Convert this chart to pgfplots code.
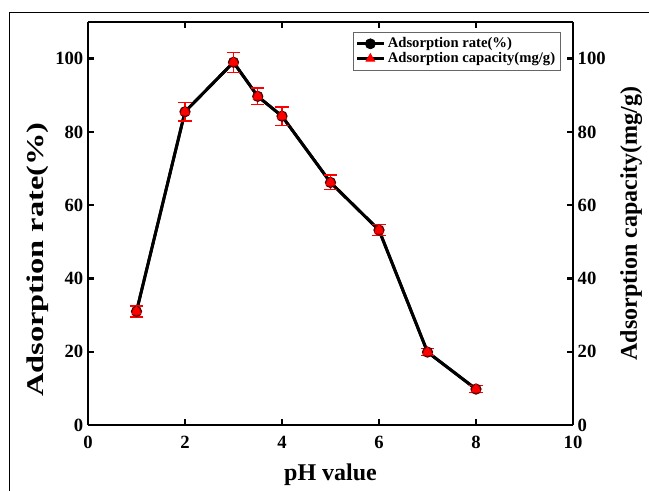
\documentclass[border=0pt]{standalone}
\usepackage{pgfplots}
\pgfplotsset{compat=1.18}
\usepackage{fontspec}
\setmainfont{Liberation Serif}

\pgfplotstableread{
ph   val   err
1    31.0  1.5
2    85.5  2.5
3    99.0  2.7
3.5  89.7  2.3
4    84.3  2.5
5    66.2  2.0
6    53.2  1.5
7    19.9  1.0
8    9.8   1.0
}\rate

\begin{document}
\begin{tikzpicture}[x=0.75pt, y=0.75pt]
\pgfplotsset{
  common/.style={
    width=363.75pt, height=302.25pt, scale only axis, at={(0,0)}, anchor=south west,
    xmin=0, xmax=10, ymin=0, ymax=110,
    ytick={0,20,...,100},
    tick align=inside, major tick length=4.5pt,
    every tick/.style={black, line width=1.8pt},
    axis line style={line width=2.2pt},
    tick label style={font=\fontsize{14}{16}\selectfont\bfseries},
    /pgf/number format/assume math mode=true,
    label style={font=\fontsize{18}{20}\selectfont\bfseries},
  }
}
\begin{axis}[common,
  axis y line*=left, axis x line*=box,
  xtick={0,2,...,10},
  xticklabel style={yshift=-5pt},
  xlabel={pH value}, ylabel={\scalebox{1.35}[1]{Adsorption rate(\%)}},
  xlabel style={yshift=-4pt},
  ylabel style={at={(ticklabel cs:0.41)}, yshift=-2pt},
  legend style={font=\fontsize{11}{12}\selectfont\bfseries,
    at={(0.975,0.975)}, anchor=north east, draw=black!60, line width=0.5pt,
    row sep=-2pt, inner sep=2pt},
  legend cell align=left,
  legend image code/.code={
    \draw[#1, line width=2.2pt] (0cm,0cm) -- (0.7cm,0cm);
    \draw[#1, mark repeat=2, mark phase=2] plot coordinates {(0cm,0cm) (0.35cm,0cm) (0.7cm,0cm)};
  },
]
\addlegendimage{black, mark=*, mark size=3.8pt, mark options={fill=black}}
\addlegendentry{Adsorption rate(\%)}
\addlegendimage{black, mark=triangle*, mark size=3.8pt, mark options={draw=red, fill=red}}
\addlegendentry{Adsorption capacity(mg/g)}
\addplot[black, line width=2.2pt, mark=*, mark size=3.8pt, forget plot,
  mark options={draw=black!70!red, fill=red!85!black, line width=0.8pt}] table[x=ph, y=val] {\rate};
\addplot[black, line width=2.2pt, mark=triangle*, mark size=4pt, forget plot,
  mark options={draw=red, fill=red, line width=0.4pt},
  error bars/.cd, y dir=both, y explicit,
  error bar style={red, line width=1pt}, error mark options={red, line width=1pt, mark size=5pt, rotate=90}]
  table[x=ph, y=val, y error=err] {\rate};
\end{axis}
\begin{axis}[common,
  axis y line*=right, axis x line=none,
  ylabel={Adsorption capacity(mg/g)},
  ylabel style={yshift=-4pt},
]
\end{axis}
% thin frame round the figure, partly outside the page
\draw[black, line width=0.6pt] (-79,-90) rectangle (580,403+10);
\pgfresetboundingbox
\useasboundingbox (-88,-66) rectangle (561,425);
\end{tikzpicture}
\end{document}
